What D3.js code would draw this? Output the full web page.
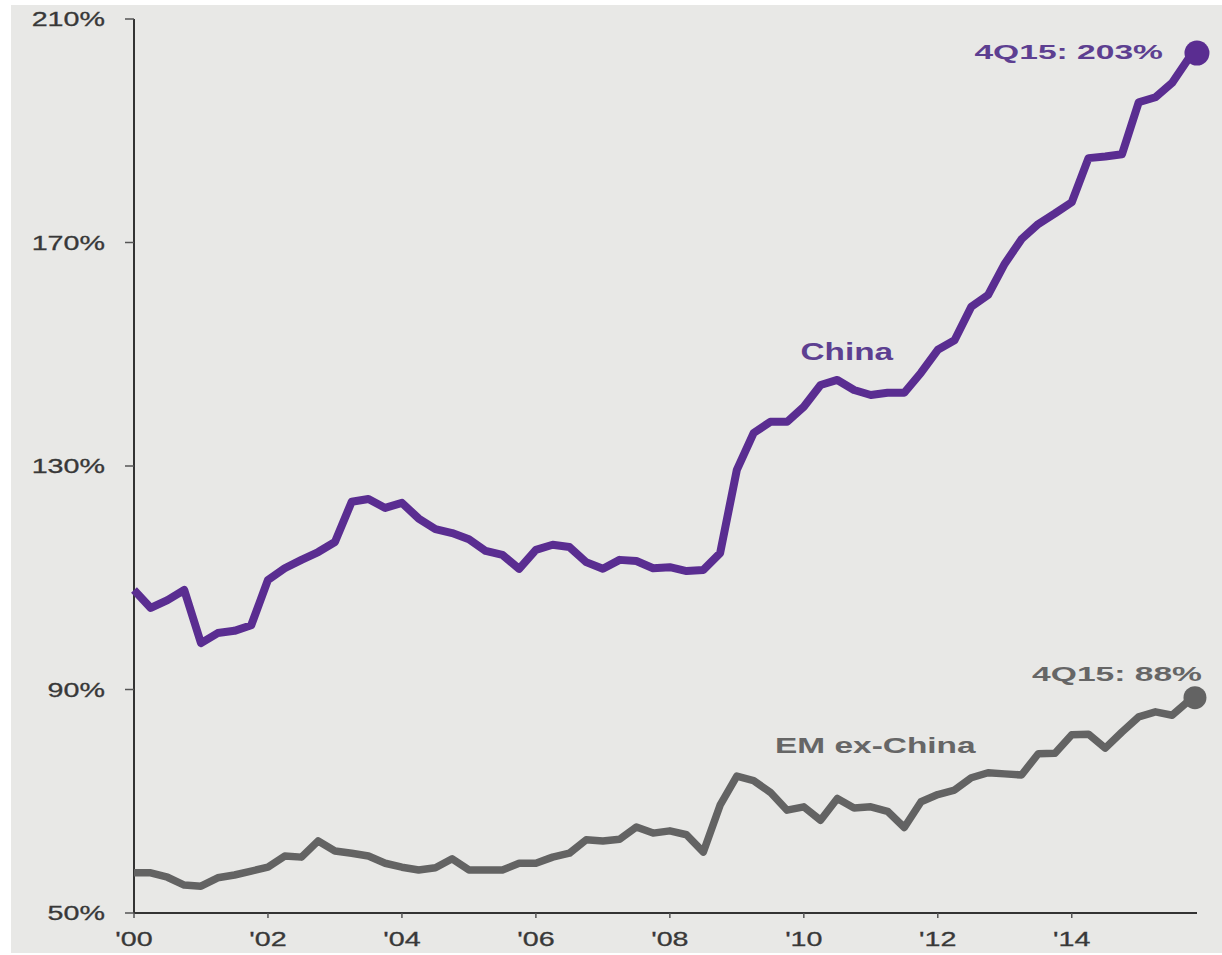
<!DOCTYPE html>
<html><head><meta charset="UTF-8">
<script src="https://d3js.org/d3.v7.min.js"></script>
<style>
body{margin:0;background:#fff;overflow:hidden}
text{font-family:"Liberation Sans",Arial,sans-serif}
</style></head><body><div id="chart"></div><script>
// quarterly, 1Q00 .. 4Q15, % of GDP
const china = [107.8,104.6,106.0,107.8,98.3,100.1,100.5,101.5,109.6,111.7,
  113.2,114.6,116.4,123.6,124.1,122.5,123.4,120.6,118.7,118.0,
  116.9,114.8,114.1,111.6,115.0,115.9,115.5,112.8,111.6,113.2,
  113.0,111.7,111.9,111.2,111.4,114.4,129.3,135.9,137.9,137.9,
  140.6,144.5,145.4,143.6,142.7,143.1,143.1,146.7,150.8,152.5,
  158.5,160.6,166.2,170.6,173.3,175.2,177.2,185.1,185.4,185.8,
  195.1,196.0,198.6,203];
const emExChina = [57.2,57.2,56.4,55.0,54.8,56.3,56.8,57.5,58.2,60.2,
  60.0,62.9,61.1,60.7,60.2,58.9,58.2,57.7,58.1,59.7,
  57.7,57.7,57.7,58.9,58.9,60.0,60.7,63.1,62.9,63.2,
  65.4,64.3,64.7,64.0,60.9,69.3,74.5,73.7,71.6,68.4,
  69.0,66.6,70.5,68.8,69.0,68.2,65.3,69.9,71.2,72.0,
  74.2,75.1,74.9,74.7,78.5,78.6,81.9,82.0,79.5,82.4,
  85.1,86.0,85.4,88];
const xTickYears = [2000,2002,2004,2006,2008,2010,2012,2014];
const xTickLabels = ["'00","'02","'04","'06","'08","'10","'12","'14"];
const yTicks = [50,90,130,170,210];

const W = 1222, H = 955;
const svg = d3.select("#chart").append("svg").attr("width", W).attr("height", H);
svg.append("rect").attr("x", 11).attr("y", 5).attr("width", W - 11).attr("height", 948).attr("fill", "#e8e8e6");

const x = d3.scaleLinear().domain([2000, 2015.87]).range([134, 1197]);
const y = d3.scaleLinear().domain([50, 210]).range([913, 19]);
const qx = i => x(2000 + i / 4);

// stretched text helper (reference glyphs are wide)
const label = (g, tx, ty, str, sx, o) => {
  const t = g.append("g").attr("transform", `translate(${tx},${ty}) scale(${sx},1)`)
    .append("text").text(str).attr("text-anchor", o.anchor || "start")
    .attr("font-size", o.size).attr("font-weight", o.weight || "normal").attr("fill", o.fill);
  if (o.dy) t.attr("dy", o.dy);
  if (o.stroke) t.attr("stroke", o.fill).attr("stroke-width", o.stroke);
  return t;
};

// y axis
const yAx = svg.append("g");
yAx.append("line").attr("x1", 134).attr("x2", 134).attr("y1", y(210)).attr("y2", y(50))
  .attr("stroke", "#333").attr("stroke-width", 2);
yTicks.forEach(v => {
  yAx.append("line").attr("x1", 125).attr("x2", 134).attr("y1", y(v)).attr("y2", y(v))
    .attr("stroke", "#555").attr("stroke-width", 1.5);
  label(yAx, 105, y(v), v + "%", 1.4, {anchor: "end", size: 20.5, fill: "#383838", dy: "0.36em", stroke: 0.3});
});

// x axis
const xAx = svg.append("g");
xAx.append("line").attr("x1", 134).attr("x2", 1197).attr("y1", y(50)).attr("y2", y(50))
  .attr("stroke", "#333").attr("stroke-width", 2);
xTickYears.forEach((yr, k) => {
  xAx.append("line").attr("x1", x(yr)).attr("x2", x(yr)).attr("y1", y(50)).attr("y2", y(50) + 5)
    .attr("stroke", "#555").attr("stroke-width", 1.5);
  label(xAx, x(yr), 946, xTickLabels[k], 1.4, {anchor: "middle", size: 20.5, fill: "#383838", stroke: 0.3});
});

const line = d3.line().x((d, i) => qx(i)).y(d => y(d));

svg.append("path").datum(emExChina).attr("d", line).attr("fill", "none")
  .attr("stroke", "#636363").attr("stroke-width", 7.5).attr("stroke-linejoin", "round");
svg.append("path").datum(china).attr("d", line).attr("fill", "none")
  .attr("stroke", "#5a2d91").attr("stroke-width", 8).attr("stroke-linejoin", "round");

const last = china.length - 1;
svg.append("circle").attr("cx", qx(last) + 8).attr("cy", y(china[last]) - 5).attr("r", 12.5).attr("fill", "#5a2d91");
svg.append("circle").attr("cx", qx(last) + 6).attr("cy", y(emExChina[last]) - 3).attr("r", 11.5).attr("fill", "#636363");

label(svg, qx(last) - 26, y(china[last]) + 1, "4Q15: 203%", 1.6, {anchor: "end", size: 21, weight: "bold", fill: "#5d3f91"});
label(svg, qx(last) + 13, y(emExChina[last]) - 20, "4Q15: 88%", 1.6, {anchor: "end", size: 21, weight: "bold", fill: "#666"});
label(svg, x(2009.95), y(149), "China", 1.45, {size: 23, weight: "bold", fill: "#5d3f91"});
label(svg, x(2009.57), y(78.6), "EM ex-China", 1.52, {size: 22, weight: "bold", fill: "#666"});
</script></body></html>
